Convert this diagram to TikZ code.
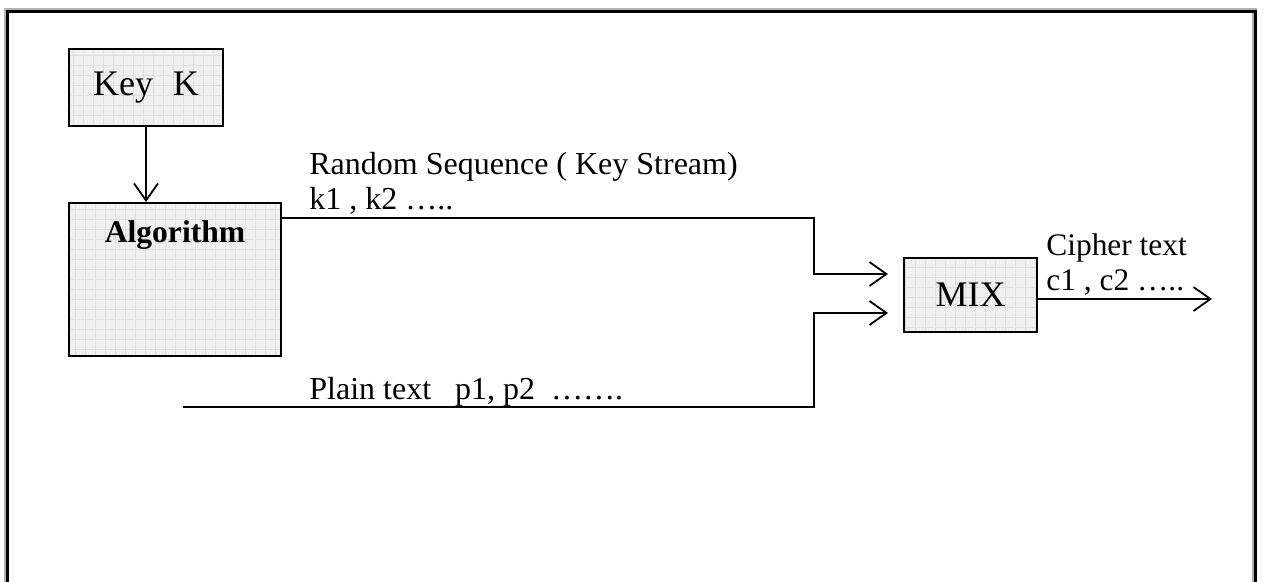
\documentclass[tikz,border=0pt]{standalone}
\usepackage{fontspec}
\setmainfont{Liberation Serif}
\usetikzlibrary{arrows.meta}
\begin{document}
\begin{tikzpicture}[x=0.5pt,y=-0.5pt,
  box/.style={draw=black, line width=1pt, fill=gray!12, inner sep=0pt,
    path picture={\draw[gray!25, line width=0.25pt, step=5pt]
      (path picture bounding box.south west) grid (path picture bounding box.north east);}},
  conn/.style={line width=1pt},
  arr/.style={conn, -{Straight Barb[length=8.5pt,width=12pt,line width=0.9pt]}},
  lbl/.style={font=\fontsize{16}{19}\selectfont, anchor=base west, inner sep=0pt},
]
\useasboundingbox (0,0) rectangle (1265,582);
% frame
\draw[gray!60, line width=2.2pt] (6.5,582) -- (6.5,10.5) -- (1254.5,10.5) -- (1254.5,582);
\draw[black, line width=1.6pt] (7.5,582) -- (7.5,11.5) -- (1255.5,11.5) -- (1255.5,582);

% boxes
\node[box, minimum width=77pt, minimum height=38.5pt, font=\fontsize{18}{21}\selectfont]
  (key) at (146,87.5) {Key\hspace{0.55em}K};
\node[box, minimum width=106pt, minimum height=76.5pt] (alg) at (175,279.5) {};
\node[font=\fontsize{15.8}{18}\selectfont\bfseries, anchor=base, inner sep=0pt]
  (algt) at (175,243) {Algorithm};
\node[box, minimum width=66.5pt, minimum height=37pt, font=\fontsize{18}{21}\selectfont]
  (mix) at (970.5,295) {MIX};

% coordinates
\coordinate (ks) at (281,218);
\coordinate (in1) at (888,274);
\coordinate (in2) at (888,313);
\coordinate (ps) at (183,407);
\coordinate (out) at (1212,299);

% connectors
\draw[arr] (key.south) -- (key.south |- alg.north);
\draw[arr] (ks) -- (814,218) -- (814,274) -- (in1);
\draw[arr] (ps) -- (814,407) -- (814,313) -- (in2);
\draw[arr] (mix.east |- out) -- (out);

% labels
\node[lbl] (rs) at (309,175) {Random Sequence ( Key Stream)};
\node[lbl] (kk) at (309,210) {k1 , k2 …..};
\node[lbl] (pt) at (309,400) {Plain text\ \ \ p1, p2\ \ …….};
\node[lbl, font=\fontsize{15.7}{19}\selectfont] (ct) at (1046,256) {Cipher text};
\node[lbl, font=\fontsize{15.7}{19}\selectfont] (cc) at (1046,291) {c1 , c2 …..};
\end{tikzpicture}
\end{document}
